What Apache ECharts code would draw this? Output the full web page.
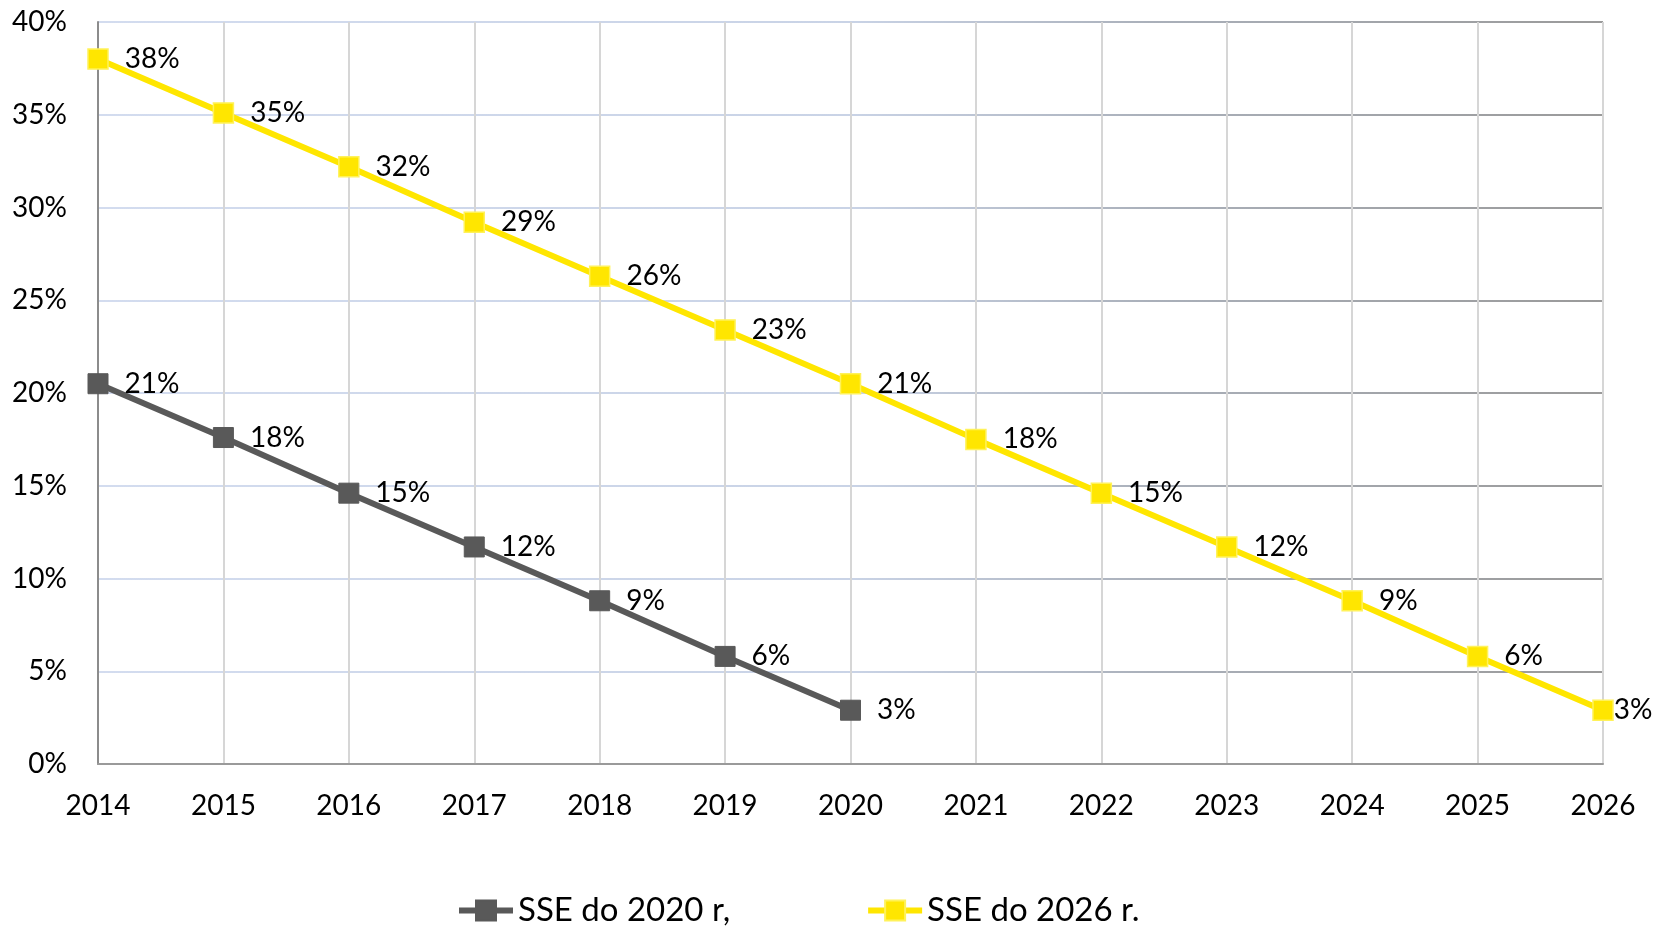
<!DOCTYPE html>
<html>
<head>
<meta charset="utf-8">
<script src="https://cdn.jsdelivr.net/npm/echarts@6/dist/echarts.min.js"></script>
<style>
  html, body { margin: 0; padding: 0; background: #fff; }
  #chart { width: 1668px; height: 929px; }
</style>
</head>
<body>
<div id="chart"></div>
<script>
// lata na osi X
var years = ["2014", "2015", "2016", "2017", "2018", "2019", "2020",
             "2021", "2022", "2023", "2024", "2025", "2026"];
// wartości w %
var sse2020 = [20.5, 17.6, 14.6, 11.7, 8.8, 5.8, 2.9];
var sse2026 = [38.0, 35.1, 32.2, 29.2, 26.3, 23.4, 20.5, 17.5, 14.6, 11.7, 8.8, 5.8, 2.9];
var seriesNames = ["SSE do 2020 r,", "SSE do 2026 r."];

var chart = echarts.init(document.getElementById("chart"));

var font = "Lato";
var yellow = "#FFE600";
var grey = "#595959";

function pct(p) {
  return Math.round(p.value) + "%";
}

// ostatni punkt żółtej serii ma etykietę tuż przy znaczniku
var yellowData = sse2026.map(function (v, i) {
  if (i === sse2026.length - 1) {
    return { value: v, label: { distance: 0 } };
  }
  return v;
});

var option = {
  animation: false,
  textStyle: { fontFamily: font },
  grid: { left: 98, right: 65, top: 22, bottom: 165 },
  xAxis: {
    type: "category",
    data: years,
    boundaryGap: false,
    axisLine: { lineStyle: { color: "#9a9a9a", width: 2 } },
    axisTick: { show: false },
    axisLabel: { color: "#000", fontSize: 28, fontFamily: font, margin: 28 },
    splitLine: { show: true, lineStyle: { color: "#d6d6d6", width: 2 } }
  },
  yAxis: {
    type: "value",
    min: 0,
    max: 40,
    interval: 5,
    axisLine: { show: true, lineStyle: { color: "#8c8c8c", width: 2 } },
    axisTick: { show: false },
    axisLabel: { color: "#000", fontSize: 28, fontFamily: font, margin: 31, formatter: "{value}%" },
    splitLine: {
      show: true,
      lineStyle: {
        width: 2,
        color: {
          type: "linear", x: 98, y: 0, x2: 1603, y2: 0, global: true,
          colorStops: [
            { offset: 0, color: "#d3dcef" },
            { offset: 0.5, color: "#c9d3e6" },
            { offset: 0.7, color: "#aab0ba" },
            { offset: 1, color: "#9a9a9a" }
          ]
        }
      }
    }
  },
  legend: {
    left: 451,
    top: 889,
    itemWidth: 54,
    itemHeight: 25,
    itemGap: 135,
    lineStyle: { width: 6 },
    textStyle: { color: "#000", fontSize: 33, fontFamily: font },
    data: seriesNames
  },
  series: [
    {
      name: seriesNames[0],
      type: "line",
      data: sse2020,
      symbol: "rect",
      symbolSize: 20,
      lineStyle: { color: grey, width: 6 },
      itemStyle: { color: grey, borderColor: grey, borderWidth: 1 },
      label: {
        show: true,
        position: "right",
        distance: 16,
        color: "#000",
        fontSize: 28,
        fontFamily: font,
        formatter: pct
      },
      z: 3
    },
    {
      name: seriesNames[1],
      type: "line",
      data: yellowData,
      symbol: "rect",
      symbolSize: 20,
      lineStyle: { color: yellow, width: 6 },
      itemStyle: { color: yellow, borderColor: "#FFF25A", borderWidth: 1.5 },
      label: {
        show: true,
        position: "right",
        distance: 16,
        color: "#000",
        fontSize: 28,
        fontFamily: font,
        formatter: pct
      },
      z: 2
    }
  ]
};

chart.setOption(option);
window.addEventListener("resize", function () {
  chart.resize();
});
</script>
</body>
</html>
